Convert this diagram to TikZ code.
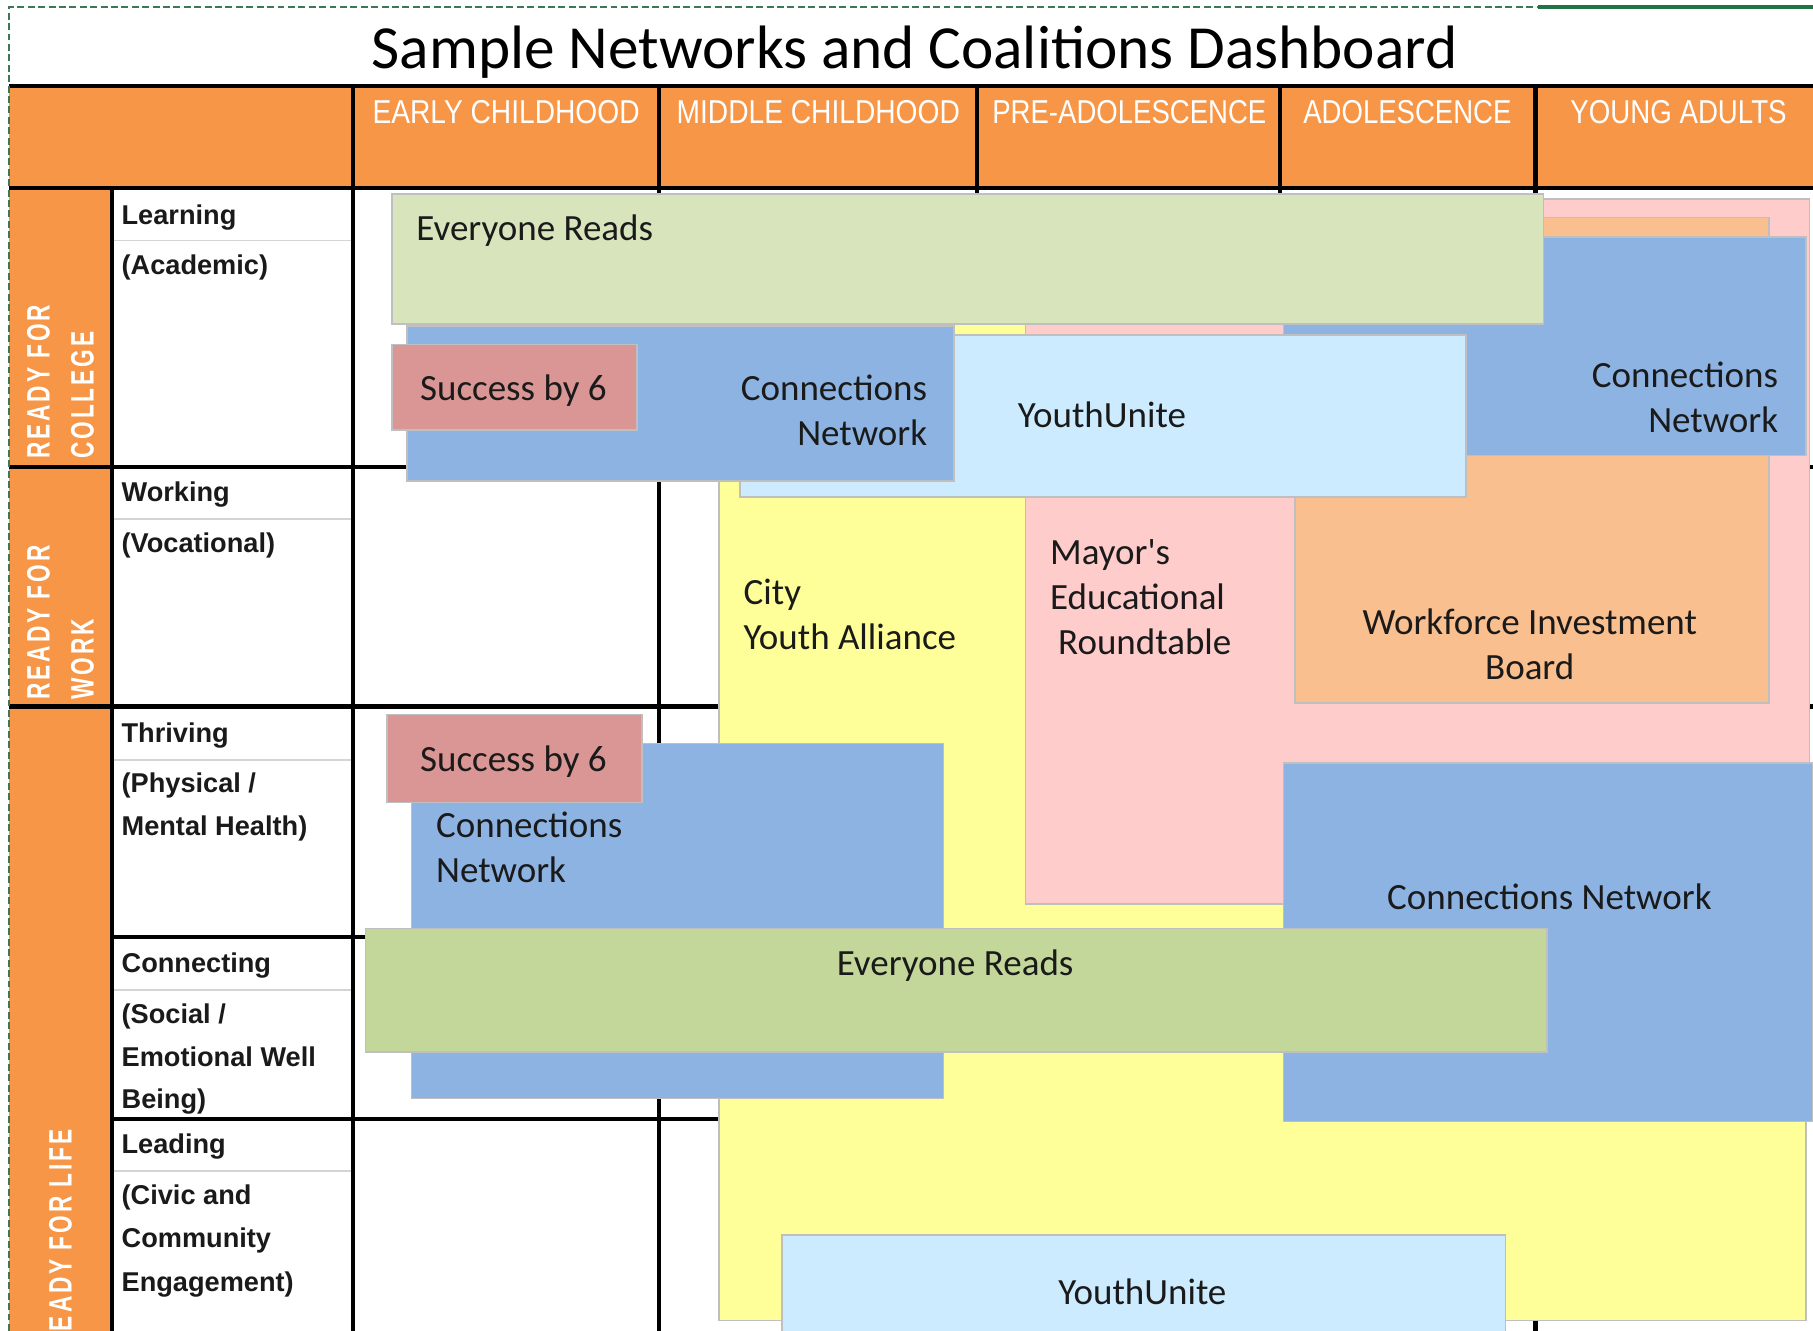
\documentclass[tikz,border=0pt]{standalone}
\usepackage{fontspec}
\setmainfont{Carlito}
\newfontfamily\labfont{Liberation Sans}
\newfontfamily\vlabfont[FakeStretch=0.7,LetterSpace=9]{Liberation Sans}
\definecolor{hdr}{HTML}{F79646}
\definecolor{boxline}{HTML}{BFBFBF}
\definecolor{grnL}{HTML}{D8E4BC}
\definecolor{grnD}{HTML}{C4D79B}
\definecolor{sbsix}{HTML}{DA9694}
\definecolor{blu}{HTML}{8DB3E2}
\definecolor{lblu}{HTML}{CCEBFF}
\definecolor{yel}{HTML}{FFFF99}
\definecolor{pnk}{HTML}{FFCCCC}
\definecolor{org}{HTML}{FABF8F}
\definecolor{txt}{HTML}{1A1A1A}
\definecolor{bgreen}{HTML}{217346}
\definecolor{subline}{HTML}{D4D4D4}
\tikzset{
  box/.style={draw=boxline, line width=1.5pt},
  btxt/.style={font=\fontsize{32}{39}\selectfont, text=txt, inner sep=0pt},
  rlab/.style={font={\labfont\bfseries\fontsize{23.5}{37.5}\selectfont}, text=txt, inner sep=0pt, anchor=base west},
  gridline/.style={line width=3.5pt, black},
  sublinestyle/.style={line width=1.5pt, subline},
  hdrtxt/.style={text=white, inner sep=0pt, anchor=base west},
  vlab/.style={font={\vlabfont\bfseries\fontsize{28}{30}\selectfont}, text=white, inner sep=0pt, rotate=90, anchor=base west},
}
\begin{document}
\begin{tikzpicture}[x=1pt,y=-1pt]
\useasboundingbox (0,0) rectangle (1568,1151);
\clip (0,0) rectangle (1568,1151);
\fill[white] (0,0) rectangle (1568,1151);
% orange header and left strip
\fill[hdr] (8,74) rectangle (1568,163);
\fill[hdr] (8,163) rectangle (97,1151);
% light sub-lines in label column
\foreach \yy in {208,449,657,856,1013} \draw[sublinestyle] (97,\yy) -- (305,\yy);
% grid
\draw[gridline] (8,74) -- (1568,74);
\draw[gridline] (8,163) -- (1568,163);
\draw[gridline] (8,404) -- (1568,404);
\draw[gridline] (8,611) -- (1568,611);
\draw[gridline] (97,810) -- (1568,810);
\draw[gridline] (97,968) -- (1568,968);
\draw[gridline] (97,163) -- (97,1151);
\foreach \xx in {305,570,845,1107,1328} \draw[gridline] (\xx,74) -- (\xx,1151);
% border of sheet selection
\draw[bgreen!70!gray, line width=2pt, dash pattern=on 6pt off 3pt] (8,1151) -- (8,6) -- (1330,6);
\draw[bgreen, line width=3pt] (1330,6) -- (1568,6);
% title
\node[font=\fontsize{53}{60}\selectfont, text=black, inner sep=0pt, anchor=base] (title) at (791,59) {Sample Networks and Coalitions Dashboard};
% column headers
\node[hdrtxt] (h1) at (322,107) {\resizebox{231pt}{20pt}{\labfont EARLY CHILDHOOD}};
\node[hdrtxt] (h2) at (585,107) {\resizebox{245pt}{20pt}{\labfont MIDDLE CHILDHOOD}};
\node[hdrtxt] (h3) at (858,107) {\resizebox{237pt}{20pt}{\labfont PRE-ADOLESCENCE}};
\node[hdrtxt] (h4) at (1127,107) {\resizebox{180pt}{20pt}{\labfont ADOLESCENCE}};
\node[hdrtxt] (h5) at (1358,107) {\resizebox{187pt}{20pt}{\labfont YOUNG ADULTS}};
% vertical labels
\node[vlab] (v1a) at (43,397) {READY FOR};
\node[vlab] (v1b) at (81,397) {COLLEGE};
\node[vlab] (v2a) at (43,605) {READY FOR};
\node[vlab] (v2b) at (81,605) {WORK};
\node[vlab] (v3) at (62,1168) {READY FOR LIFE};
% row labels
\node[rlab] (r1a) at (105,194) {Learning};
\node[rlab] (r1b) at (105,237) {(Academic)};
\node[rlab] (r2a) at (105,434) {Working};
\node[rlab] (r2b) at (105,478) {(Vocational)};
\node[rlab] (r3a) at (105,642) {Thriving};
\node[rlab] (r3b) at (105,685) {(Physical /};
\node[rlab] (r3c) at (105,723) {Mental Health)};
\node[rlab] (r4a) at (105,841) {Connecting};
\node[rlab] (r4b) at (105,885) {(Social /};
\node[rlab] (r4c) at (105,922) {Emotional Well};
\node[rlab] (r4d) at (105,959) {Being)};
\node[rlab] (r5a) at (105,998) {Leading};
\node[rlab] (r5b) at (105,1042) {(Civic and};
\node[rlab] (r5c) at (105,1079) {Community};
\node[rlab] (r5d) at (105,1117) {Engagement)};
% coalition boxes
\filldraw[box, fill=yel] (622,280) rectangle (1562,1142);
\filldraw[box, fill=pnk] (887,172) rectangle (1565,782);
\filldraw[box, fill=org] (1120,188) rectangle (1530,608);
\filldraw[box, fill=blu] (1110,205) rectangle (1562,394);
\filldraw[box, fill=lblu] (640,290) rectangle (1268,430);
\filldraw[box, fill=blu] (352,282) rectangle (825,416);
\filldraw[box, fill=sbsix] (339,298) rectangle (551,372);
\filldraw[box, fill=grnL] (339,168) rectangle (1335,280);
\filldraw[box, fill=blu] (356,643) rectangle (816,950);
\filldraw[box, fill=sbsix] (335,618) rectangle (555,694);
\filldraw[box, fill=blu] (1110,660) rectangle (1568,970);
\filldraw[box, fill=grnD] (316,803) rectangle (1338,910);
\filldraw[box, fill=lblu] (676,1068) rectangle (1302,1165);
% box texts
\node[btxt, anchor=base west] (er1) at (360,208) {Everyone Reads};
\node[btxt, anchor=base] (sb1) at (444,346) {Success by 6};
\node[btxt, anchor=base east] (cn1a) at (802,346) {Connections};
\node[btxt, anchor=base east] (cn1b) at (802,385) {Network};
\node[btxt, anchor=base] (yu1) at (953,370) {YouthUnite};
\node[btxt, anchor=base east] (cn2a) at (1538,335) {Connections};
\node[btxt, anchor=base east] (cn2b) at (1538,374) {Network};
\node[btxt, anchor=base west] (cya) at (643,523) {City};
\node[btxt, anchor=base west] (cyb) at (643,562) {Youth Alliance};
\node[btxt, anchor=base west] (mra) at (908,488) {Mayor\textquotesingle s};
\node[btxt, anchor=base west] (mrb) at (908,527) {Educational};
\node[btxt, anchor=base west] (mrc) at (915,566) {Roundtable};
\node[btxt, anchor=base] (wfa) at (1323,549) {Workforce Investment};
\node[btxt, anchor=base] (wfb) at (1323,588) {Board};
\node[btxt, anchor=base] (sb2) at (444,667) {Success by 6};
\node[btxt, anchor=base west] (cn3a) at (377,724) {Connections};
\node[btxt, anchor=base west] (cn3b) at (377,763) {Network};
\node[btxt, anchor=base] (cn4) at (1340,787) {Connections Network};
\node[btxt, anchor=base] (er2) at (826,844) {Everyone Reads};
\node[btxt, anchor=base] (yu2) at (988,1128) {YouthUnite};
\end{tikzpicture}
\end{document}
